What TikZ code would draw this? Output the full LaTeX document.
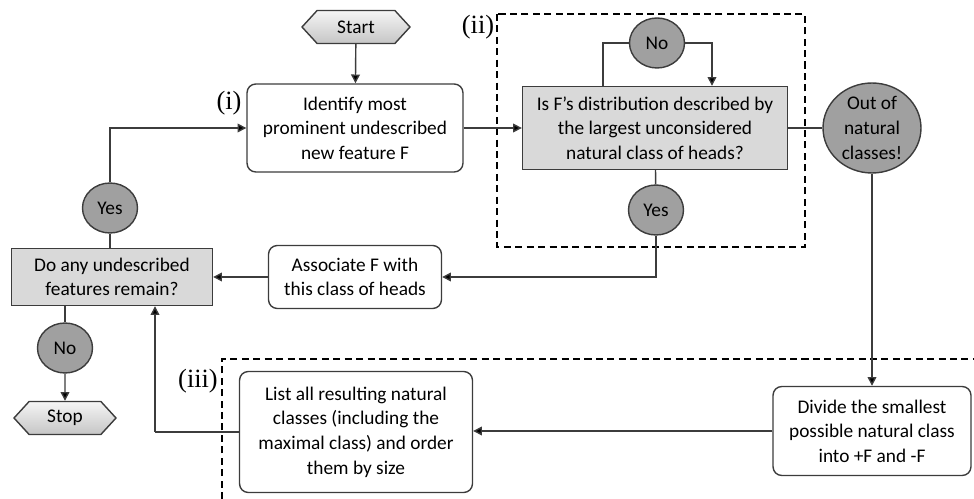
\documentclass[tikz,border=0pt]{standalone}
\usepackage{fontspec}
\setsansfont{Carlito}
\newfontfamily\tagfont{Liberation Serif}
\usetikzlibrary{shapes.geometric,shapes.symbols,arrows.meta,positioning,calc}
\definecolor{linecolor}{RGB}{60,60,60}
\definecolor{boxgray}{RGB}{217,217,217}
\definecolor{answergray}{RGB}{160,160,160}
\tikzstyle{boxtext}=[font=\sffamily\fontsize{11}{14}\selectfont, align=center]
\tikzstyle{process}=[boxtext, rectangle, rounded corners=5pt, draw=linecolor, line width=0.8pt, fill=white, inner sep=2pt]
\tikzstyle{decision}=[boxtext, rectangle, draw=linecolor, line width=0.8pt, fill=boxgray, inner sep=2pt]
\tikzstyle{answer}=[boxtext, ellipse, draw=linecolor, line width=0.8pt, fill=answergray, minimum width=1.1cm, minimum height=1cm, inner sep=0pt]
\tikzstyle{terminal}=[boxtext, signal, signal to=east and west, signal pointer angle=95, draw=linecolor, line width=0.8pt, top color=gray!8, bottom color=gray!45, minimum width=2.16cm, minimum height=0.66cm, inner sep=0pt]
\tikzstyle{flow}=[-{Triangle[length=5pt,width=5pt,fill=black]}, line width=0.8pt, linecolor]
\tikzstyle{plain}=[line width=0.8pt, linecolor]
\tikzstyle{region}=[dash pattern=on 4pt off 2.5pt, line width=0.9pt, black]
\tikzstyle{tag}=[font=\tagfont\fontsize{15}{17}\selectfont, inner sep=0pt]

\begin{document}
\begin{tikzpicture}[x=0.02cm,y=-0.02cm]
\useasboundingbox (0,0) rectangle (974,499);

    % main column
    \node[terminal] (start) at (356,27) {Start};
    \node[process, minimum width=4.32cm, minimum height=1.76cm] (identify) at (355,128) {Identify most\\prominent undescribed\\new feature F};
    \node[decision, minimum width=5.3cm, minimum height=1.66cm] (question) at (655,128) {Is F’s distribution described by\\the largest unconsidered\\natural class of heads?};
    \node[answer] (no2) at (657,43) {No};
    \node[answer] (yes2) at (656,210) {Yes};
    \node[answer, minimum width=1.96cm, minimum height=1.8cm] (outof) at (872,128) {Out of\\natural\\classes!};

    \node[process, minimum width=3.46cm, minimum height=1.26cm] (associate) at (355,277) {Associate F with\\this class of heads};
    \node[decision, minimum width=4.02cm, minimum height=1.14cm] (remain) at (112,277) {Do any undescribed\\features remain?};
    \node[answer] (yes1) at (110,208) {Yes};
    \node[answer] (no1) at (65,348) {No};
    \node[terminal, minimum width=2.04cm] (stop) at (65,418) {Stop};

    \node[process, minimum width=4.66cm, minimum height=2.42cm] (list) at (356,432) {List all resulting natural\\classes (including the\\maximal class) and order\\them by size};
    \node[process, minimum width=3.96cm, minimum height=1.78cm] (divide) at (872,431) {Divide the smallest\\possible natural class\\into +F and -F};
    \coordinate (bend) at (155,432);

    % regions
    \draw[region] (497,14) rectangle (805,247);
    \draw[region] (222,499) -- (222,359) -- (974,359);
    \node[tag] (tag-i) at (229,103) {(i)};
    \node[tag] (tag-ii) at (478,27) {(ii)};
    \node[tag] (tag-iii) at (198,381) {(iii)};

    % connectors
    \draw[flow] (start) -- (identify);
    \draw[flow] (identify) -- (question);
    \draw[plain] ([xshift=-1.04cm]question.north) |- (no2.west);
    \draw[flow] (no2.east) -| ([xshift=1.14cm]question.north);
    \draw[plain] (question) -- (yes2);
    \draw[flow] (yes2) |- (associate);
    \draw[plain] (question) -- (outof);
    \draw[flow] (outof) -- (divide);
    \draw[flow] (associate) -- (remain);
    \draw[plain] (yes1 |- remain.north) -- (yes1);
    \draw[flow] (yes1) |- (identify);
    \draw[plain] (no1 |- remain.south) -- (no1);
    \draw[flow] (no1) -- (stop);
    \draw[flow] (divide.west) -- (divide.west -| list.east);
    \draw[plain] (list.west |- bend) -- (bend);
    \draw[flow] (bend) -- (bend |- remain.south);

\end{tikzpicture}
\end{document}
